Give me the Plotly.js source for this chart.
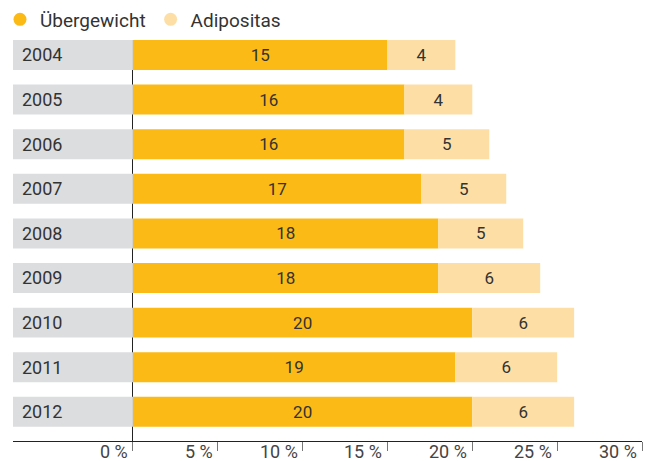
<!DOCTYPE html>
<html><head><meta charset="utf-8">
<script src="https://cdn.plot.ly/plotly-3.0.1.min.js"></script>
<style>html,body{margin:0;padding:0;background:#fff}</style>
</head><body>
<div id="chart" style="width:652px;height:461px"></div>
<script>
const years = ['2004','2005','2006','2007','2008','2009','2010','2011','2012'];
const uebergewicht = [15,16,16,17,18,18,20,19,20];
const adipositas = [4,4,5,5,5,6,6,6,6];
const tickValues = [0,5,10,15,20,25,30];
const tickLabels = ['0 %','5 %','10 %','15 %','20 %','25 %','30 %'];
const seriesNames = ['Übergewicht','Adipositas'];

const C_GOLD = '#FBBA16', C_LIGHT = '#FDDFA6', C_GRAY = '#DCDDDF', C_TEXT = '#333333';
const X_MIN = -7.07, X_MAX = 30;
const BAR_W = 0.672;
const FONT = 'Roboto, "DejaVu Sans", sans-serif';

const traces = [
  { type:'bar', orientation:'h', y: years, x: years.map(() => -X_MIN), base: X_MIN,
    marker:{color:C_GRAY}, width: BAR_W, showlegend:false, hoverinfo:'skip' },
  { type:'bar', orientation:'h', y: years, x: uebergewicht, name: seriesNames[0],
    marker:{color:C_GOLD}, width: BAR_W, showlegend:false,
    text: uebergewicht.map(String), textposition:'inside', insidetextanchor:'middle',
    insidetextfont:{size:17, color:C_TEXT, family:FONT} },
  { type:'bar', orientation:'h', y: years, x: adipositas, base: uebergewicht, name: seriesNames[1],
    marker:{color:C_LIGHT}, width: BAR_W, showlegend:false,
    text: adipositas.map(String), textposition:'inside', insidetextanchor:'middle',
    insidetextfont:{size:17, color:C_TEXT, family:FONT} },
  { type:'scatter', mode:'markers', x:[null], y:[null], name: seriesNames[0],
    marker:{color:C_GOLD, size:13, symbol:'circle'} },
  { type:'scatter', mode:'markers', x:[null], y:[null], name: seriesNames[1],
    marker:{color:C_LIGHT, size:13, symbol:'circle'} }
];

const annotations = tickValues.map((v, i) => ({
  x: v, xref:'x', y: 0, yref:'paper', xanchor:'right', yanchor:'middle',
  xshift: -3, yshift: -10, showarrow:false, text: tickLabels[i],
  font:{size:18, color:'#444', family:FONT}
}));

const layout = {
  width:652, height:461,
  margin:{l:13, r:10, t:40, b:20},
  paper_bgcolor:'#fff', plot_bgcolor:'#fff',
  barmode:'overlay',
  hovermode:false,
  font:{family:FONT, color:C_TEXT},
  xaxis:{ range:[X_MIN, X_MAX], tickvals: tickValues, showticklabels:false,
    ticks:'outside', ticklen:9, tickcolor:'#777', tickwidth:1,
    showgrid:false, showline:true, linecolor:'#222', linewidth:1,
    zeroline:true, zerolinecolor:'#222', zerolinewidth:1, fixedrange:true },
  yaxis:{ type:'category', categoryarray: years, range:[8.654, -0.336],
    ticks:'', showgrid:false, showline:false, zeroline:false,
    ticklabelposition:'inside', ticklabelstandoff:6,
    tickfont:{size:18, color:C_TEXT, family:FONT}, fixedrange:true },
  legend:{ orientation:'h', xref:'container', yref:'container', x:-4/652, y:1 - 19.5/461,
    xanchor:'left', yanchor:'middle', font:{size:19, color:C_TEXT, family:FONT},
    itemwidth:30, bgcolor:'rgba(0,0,0,0)' },
  annotations: annotations
};

Plotly.newPlot('chart', traces, layout, {displayModeBar:false, staticPlot:true});
</script>
</body></html>
